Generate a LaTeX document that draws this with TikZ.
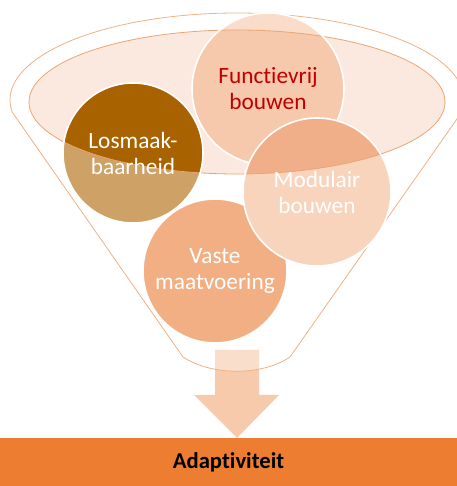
\documentclass[tikz,border=0pt]{standalone}
\usepackage{fontspec}
\setmainfont{Carlito}[Ligatures={NoCommon}]
\definecolor{rimfill}{HTML}{FBE9DF}
\definecolor{rimline}{HTML}{E9A574}
\definecolor{funnelline}{HTML}{F0B184}
\definecolor{funcin}{HTML}{F6C9AC}
\definecolor{funcout}{HTML}{F9DCCA}
\definecolor{losin}{HTML}{A96200}
\definecolor{losout}{HTML}{CEA167}
\definecolor{modin}{HTML}{F1AF89}
\definecolor{modout}{HTML}{F8D4BD}
\definecolor{vastefill}{HTML}{F2AF84}
\definecolor{arrowtop}{HTML}{FADECC}
\definecolor{arrowlow}{HTML}{F7CAAB}
\definecolor{barfill}{HTML}{ED7D31}
\definecolor{functext}{HTML}{C00000}

\begin{document}
\begin{tikzpicture}[x=0.75pt, y=0.75pt,
    bubble/.style={circle, draw=white, line width=1.2pt, inner sep=0pt, align=center,
        font=\fontsize{17.5}{19.5}\selectfont},
    rim/.style={draw=rimline, line width=0.6pt},
    barbox/.style={rectangle, fill=barfill, inner sep=0pt, minimum width=342.75pt,
        minimum height=36pt, font=\fontsize{17}{19.5}\selectfont\bfseries}]
    \clip (0,0) rectangle (457,486);

    % Inner rim of the funnel
    \coordinate (rc) at (237,384);
    \fill[rimfill] (rc) ellipse [x radius=208, y radius=72];
    \draw[rim] (rc) ellipse [x radius=208, y radius=72];

    % Arrow out of the funnel
    \fill[arrowlow] (215,136) -- (259,136) -- (259,91) -- (279,91) -- (237,48) -- (194,91) -- (215,91) -- cycle;
    \begin{scope}
        \clip ([shift={(188:227 and 87)}]237,386) arc [start angle=188, end angle=-8, x radius=227, y radius=87]
            -- (290,129) .. controls (262,110) and (212,110) .. (183,129) -- cycle;
        \fill[arrowtop] (215,136) -- (259,136) -- (259,91) -- (215,91) -- cycle;
    \end{scope}

    % Funnel outline
    \draw[funnelline, line width=0.6pt] ([shift={(188:227 and 87)}]237,386) arc [start angle=188, end angle=-8, x radius=227, y radius=87]
        -- (290,129) .. controls (262,110) and (212,110) .. (183,129) -- cycle;

    % Circles
    \node[bubble, minimum size=105pt, fill=losout, text=white,
        path picture={\fill[losin] (rc) ellipse [x radius=208, y radius=72];
                      \draw[rim] (rc) ellipse [x radius=208, y radius=72];}]
        (los) at (133,333) {Losmaak-\\baarheid};
    \node[bubble, minimum size=114pt, fill=funcout, text=functext,
        path picture={\fill[funcin] (rc) ellipse [x radius=208, y radius=72];
                      \draw[rim] (rc) ellipse [x radius=208, y radius=72];}]
        (func) at (268,397) {Functievrij\\bouwen};
    \node[bubble, minimum size=108pt, fill=vastefill, text=white]
        (vaste) at (215,215) {Vaste\\maatvoering};
    \node[bubble, minimum size=111pt, fill=modout, text=white,
        path picture={\fill[modin] (rc) ellipse [x radius=208, y radius=72];
                      \draw[rim] (rc) ellipse [x radius=208, y radius=72];}]
        (mod) at (317,294) {Modulair\\bouwen};

    % Result bar
    \node[barbox] (adapt) at (228.5,24) {Adaptiviteit};
\end{tikzpicture}
\end{document}
